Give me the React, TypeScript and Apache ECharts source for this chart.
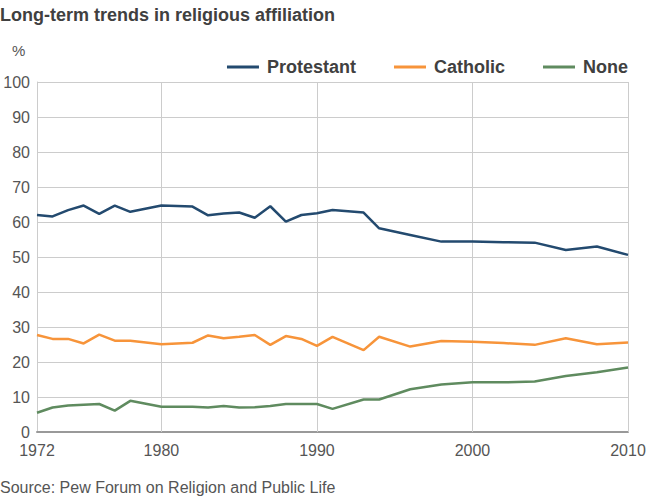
import React, { useEffect, useRef } from "react";
import * as echarts from "echarts";

const years = [1972, 1973, 1974, 1975, 1976, 1977, 1978, 1980, 1982, 1983, 1984, 1985, 1986, 1987, 1988, 1989, 1990, 1991, 1993, 1994, 1996, 1998, 2000, 2002, 2004, 2006, 2008, 2010];
const protestant = [62.0, 61.6, 63.4, 64.7, 62.3, 64.7, 62.9, 64.7, 64.4, 61.9, 62.4, 62.7, 61.2, 64.5, 60.1, 62.0, 62.5, 63.4, 62.7, 58.2, 56.3, 54.4, 54.4, 54.2, 54.1, 52.0, 53.0, 50.6];
const catholic = [27.7, 26.6, 26.6, 25.3, 27.8, 26.1, 26.1, 25.1, 25.5, 27.6, 26.8, 27.2, 27.7, 24.9, 27.4, 26.6, 24.6, 27.2, 23.4, 27.2, 24.4, 26.0, 25.8, 25.4, 24.9, 26.8, 25.1, 25.6];
const none = [5.5, 7.0, 7.6, 7.8, 8.0, 6.1, 8.9, 7.2, 7.2, 7.0, 7.4, 7.0, 7.1, 7.4, 8.0, 8.0, 8.0, 6.6, 9.3, 9.3, 12.2, 13.6, 14.2, 14.2, 14.4, 16.0, 17.1, 18.4];
const xTicks = [1972, 1980, 1990, 2000, 2010];
const xGrid = [1980, 1990, 2000, 2010];

const FONT = "'Liberation Sans', Arial, Helvetica, sans-serif";

export default function App() {
  const ref = useRef<HTMLDivElement>(null);
  useEffect(() => {
    if (!ref.current) return;
    const chart = echarts.init(ref.current, null, { renderer: "svg" });
    const pair = (arr: number[]) => years.map((y, i) => [y, arr[i]]);
    chart.setOption({
      animation: false,
      backgroundColor: "#ffffff",
      textStyle: { fontFamily: FONT },
      title: [
        {
          text: "Long-term trends in religious affiliation",
          left: 0,
          top: 6,
          padding: 0,
          textStyle: { fontFamily: FONT, fontSize: 18, fontWeight: "bold", color: "#404040" },
        },
        {
          text: "%",
          left: 12,
          top: 43,
          padding: 0,
          textStyle: { fontFamily: FONT, fontSize: 15, fontWeight: "normal", color: "#555555" },
        },
        {
          text: "Source: Pew Forum on Religion and Public Life",
          left: 0,
          top: 479,
          padding: 0,
          textStyle: { fontFamily: FONT, fontSize: 16, fontWeight: "normal", color: "#555555" },
        },
      ],
      legend: {
        right: 27,
        top: 53,
        icon: "rect",
        itemWidth: 32,
        itemHeight: 3,
        itemGap: 38,
        textStyle: { fontFamily: FONT, fontSize: 18, fontWeight: "bold", color: "#404040", padding: [0, 0, 0, 3] },
        data: ["Protestant", "Catholic", "None"],
      },
      grid: { left: 37, right: 32, top: 82, bottom: 70, containLabel: false },
      xAxis: {
        type: "value",
        min: 1972,
        max: 2010,
        interval: 2,
        axisLine: { show: true, lineStyle: { color: "#999999", width: 2 } },
        axisTick: { show: false },
        splitLine: { show: false },
        axisLabel: {
          customValues: xTicks,
          color: "#555555",
          fontSize: 16,
          margin: 10,
          fontFamily: FONT,
          formatter: (v: number) => String(v),
        },
      },
      yAxis: {
        type: "value",
        min: 0,
        max: 100,
        interval: 10,
        axisLine: { show: true, lineStyle: { color: "#cccccc", width: 1 } },
        axisTick: { show: false },
        splitLine: { show: true, lineStyle: { color: "#cccccc", width: 1 } },
        axisLabel: { color: "#555555", fontSize: 16, margin: 7, fontFamily: FONT },
      },
      series: [
        {
          name: "Protestant",
          type: "line",
          data: pair(protestant),
          showSymbol: false,
          symbol: "none",
          color: "#234a6f",
          lineStyle: { width: 2.5, color: "#234a6f" },
          z: 5,
          markLine: {
            silent: true,
            symbol: "none",
            label: { show: false },
            lineStyle: { color: "#cccccc", width: 1, type: "solid" },
            data: xGrid.map((x) => ({ xAxis: x })),
            z: 1,
          },
        },
        {
          name: "Catholic",
          type: "line",
          data: pair(catholic),
          showSymbol: false,
          symbol: "none",
          color: "#f7943a",
          lineStyle: { width: 2.5, color: "#f7943a" },
          z: 5,
        },
        {
          name: "None",
          type: "line",
          data: pair(none),
          showSymbol: false,
          symbol: "none",
          color: "#5f8b5f",
          lineStyle: { width: 2.5, color: "#5f8b5f" },
          z: 5,
        },
      ],
    });
    return () => chart.dispose();
  }, []);
  return <div ref={ref} style={{ width: 660, height: 502, position: "absolute", left: 0, top: 0 }} />;
}
